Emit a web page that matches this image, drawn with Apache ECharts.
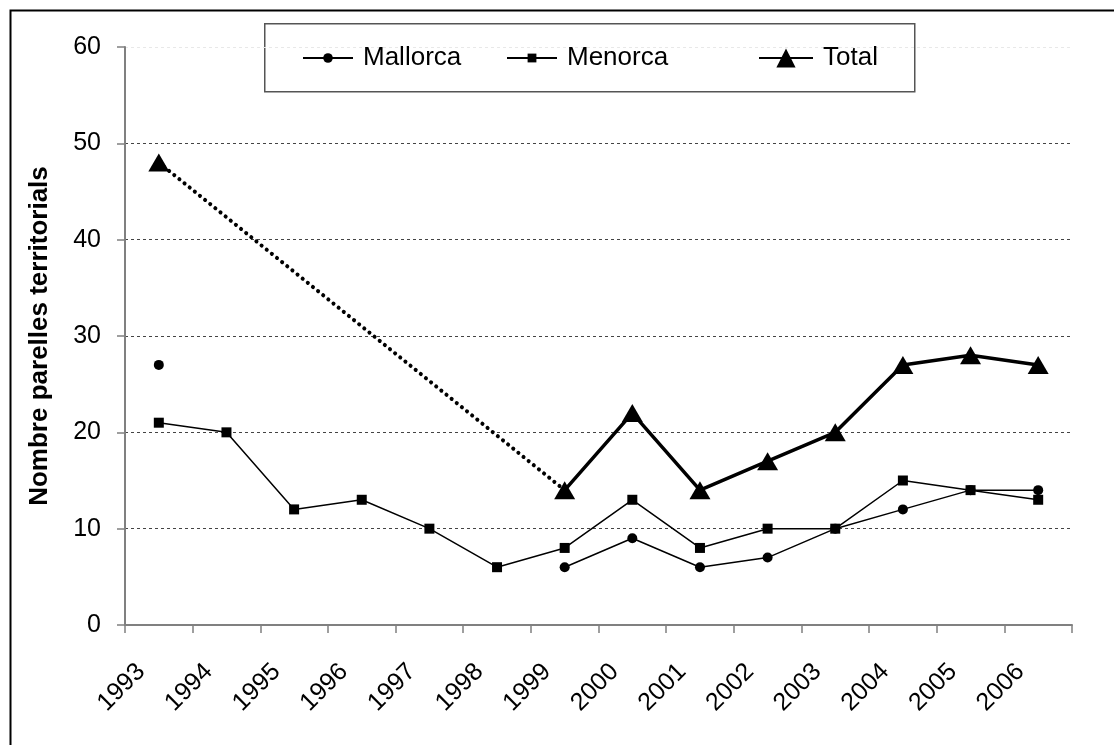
<!DOCTYPE html>
<html>
<head>
<meta charset="utf-8">
<style>html,body{margin:0;padding:0;background:#fff;}#chart{width:1114px;height:745px;}</style>
<script src="https://cdn.jsdelivr.net/npm/echarts@6/dist/echarts.min.js"></script>
</head>
<body>
<div id="chart"></div>
<script>
const years = ['1993','1994','1995','1996','1997','1998','1999','2000','2001','2002','2003','2004','2005','2006'];
const mallorca = [27, null, null, null, null, null, 6, 9, 6, 7, 10, 12, 14, 14];
const menorca = [21, 20, 12, 13, 10, 6, 8, 13, 8, 10, 10, 15, 14, 13];
const total = [48, null, null, null, null, null, 14, 22, 14, 17, 20, 27, 28, 27];
const yTicks = [0, 10, 20, 30, 40, 50, 60];

// dotted gap segment of Total: last value before the gap and first value after it
const totalGap = total.map((v, i) => (i === 0 || i === 6) ? v : null);
const totalSolid = total.map((v, i) => i === 0 ? null : v);
const totalFirst = total.map((v, i) => i === 0 ? v : null);

const FONT = '"Liberation Sans", Arial, sans-serif';
const legendText = {fontSize: 26, color: '#000', fontFamily: FONT, padding: [0, 0, 0, 5]};
const chart = echarts.init(document.getElementById('chart'));
chart.setOption({
  animation: false,
  backgroundColor: '#fff',
  textStyle: {fontFamily: FONT},
  graphic: [
    {type: 'rect', left: 8, top: 8, shape: {width: 1130, height: 760}, style: {fill: 'none', stroke: '#000', lineWidth: 2}, z: 100},
    {type: 'rect', left: 264, top: 23, shape: {width: 650, height: 68}, style: {fill: '#fff', stroke: '#555', lineWidth: 1.5}, z: 0}
  ],
  legend: [
    {data: ['Mallorca'], left: 302, top: 45, itemWidth: 50, itemHeight: 12, textStyle: legendText, padding: 0, z: 10},
    {data: ['Menorca'], left: 506, top: 45, itemWidth: 50, itemHeight: 11, textStyle: legendText, padding: 0, z: 10},
    {data: ['Total'], left: 758, top: 45, itemWidth: 54, itemHeight: 24, textStyle: legendText, padding: 0, z: 10}
  ],
  grid: {left: 125, right: 42, top: 47, bottom: 120, containLabel: false},
  xAxis: {
    type: 'category',
    data: years,
    boundaryGap: true,
    axisLine: {lineStyle: {color: '#808080', width: 2}},
    axisTick: {show: true, length: 8, inside: false, lineStyle: {color: '#808080', width: 1.5}},
    axisLabel: {rotate: 45, fontSize: 25, color: '#000', margin: 25, padding: [0, 25, 0, 0], interval: 0, fontFamily: FONT},
    splitLine: {show: false}
  },
  yAxis: {
    type: 'value',
    min: 0, max: 60, interval: 10,
    name: 'Nombre parelles territorials',
    nameLocation: 'middle',
    nameGap: 72,
    nameTextStyle: {fontSize: 26, fontWeight: 'bold', color: '#000', fontFamily: FONT},
    axisLine: {show: true, lineStyle: {color: '#808080', width: 2}},
    axisTick: {show: true, length: 8, lineStyle: {color: '#808080', width: 1.5}},
    axisLabel: {fontSize: 25, color: '#000', margin: 24, fontFamily: FONT},
    splitLine: {show: true, lineStyle: {color: ['#444','#444','#444','#444','#444','#444','#e8e8e8'], type: [3, 3], width: 1}}
  },
  series: [
    {
      name: 'Mallorca', type: 'line', data: mallorca,
      symbol: 'circle', symbolSize: 10, showAllSymbol: true, connectNulls: false,
      lineStyle: {color: '#000', width: 1.5}, itemStyle: {color: '#000'}, z: 3
    },
    {
      name: 'Menorca', type: 'line', data: menorca,
      symbol: 'rect', symbolSize: 10, showAllSymbol: true,
      lineStyle: {color: '#000', width: 1.5}, itemStyle: {color: '#000'}, z: 3
    },
    {
      name: 'TotalGap', type: 'line', data: totalGap, connectNulls: true,
      symbol: 'none', showSymbol: false,
      lineStyle: {color: '#000', width: 4, type: [0.1, 6.5], cap: 'round'}, z: 2
    },
    {
      name: 'Total', type: 'line', data: totalSolid,
      symbol: 'triangle', symbolSize: [21, 18], showAllSymbol: true,
      lineStyle: {color: '#000', width: 3.5}, itemStyle: {color: '#000'}, z: 4
    },
    {
      name: 'TotalFirst', type: 'line', data: totalFirst,
      symbol: 'triangle', symbolSize: [21, 18], showAllSymbol: true,
      lineStyle: {width: 0}, itemStyle: {color: '#000'}, z: 4
    }
  ]
});
</script>
</body>
</html>
